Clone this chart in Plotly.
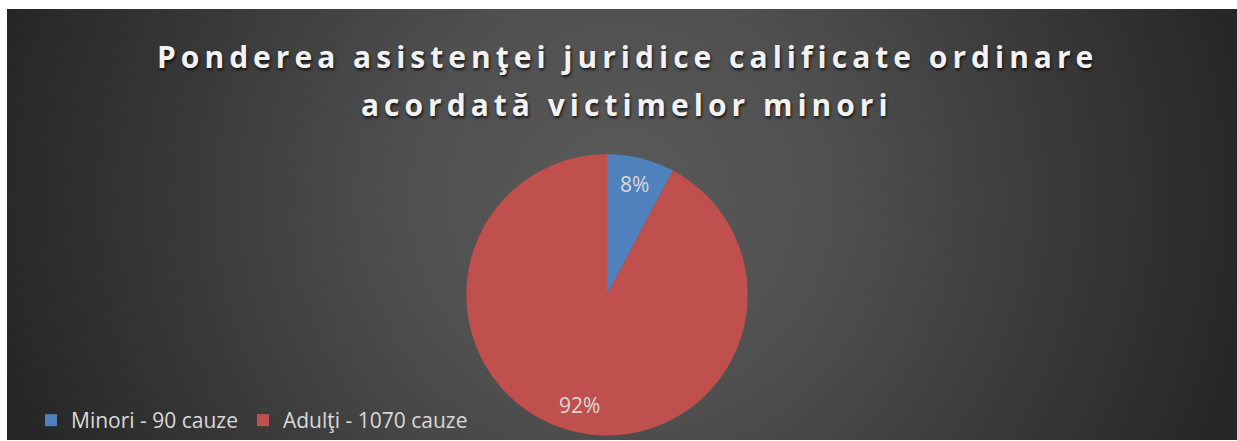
import base64
import math
import plotly.graph_objects as go

# ---- data ----
categories = ["Minori - 90 cauze", "Adulţi - 1070 cauze"]
values = [90, 1070]
colors = ["#4F81BD", "#C0504D"]
title_lines = ["Ponderea asistenţei juridice calificate ordinare", "acordată victimelor minori"]

W, H = 1237, 441
AX0, AY0 = 7, 9  # white margin at top/left of the reference picture

# ---- background radial gradient (SVG data URI) ----
bw, bh = W - AX0, H - AY0
svg = f'''<svg xmlns="http://www.w3.org/2000/svg" width="{bw}" height="{bh}" viewBox="0 0 {bw} {bh}" preserveAspectRatio="none">
<defs><radialGradient id="g" gradientUnits="userSpaceOnUse" cx="615" cy="190" r="640">
<stop offset="0" stop-color="#5a5a5a"/>
<stop offset="0.35" stop-color="#4f4f4f"/>
<stop offset="0.7" stop-color="#383838"/>
<stop offset="1" stop-color="#262626"/>
</radialGradient></defs>
<rect x="0" y="0" width="{bw}" height="{bh}" fill="url(#g)"/>
</svg>'''
src = "data:image/svg+xml;base64," + base64.b64encode(svg.encode()).decode()

# ---- pie geometry (reference pixels) ----
cx, cy, R = 607, 295.5, 141
dom_x = [(cx - R) / W, (cx + R) / W]
dom_y = [1 - (cy + R) / H, 1 - (cy - R) / H]

fig = go.Figure()
fig.add_trace(go.Pie(
    labels=categories,
    values=values,
    sort=False,
    direction="clockwise",
    rotation=0,
    marker=dict(colors=colors, line=dict(width=0)),
    textinfo="none",
    hoverinfo="label+percent",
    domain=dict(x=dom_x, y=dom_y),
))

# data labels placed at mid-angle of each slice
annotations = []
total = sum(values)
start = 0.0
for v in values:
    frac = v / total
    mid = (start + frac / 2) * 2 * math.pi
    r_lab = 0.81 * R
    lx = cx + r_lab * math.sin(mid)
    ly = cy - r_lab * math.cos(mid)
    annotations.append(dict(
        x=lx / W, y=1 - ly / H, xref="paper", yref="paper",
        text=f"{round(frac * 100)}%", showarrow=False,
        font=dict(family="Open Sans", size=21, color="#D9D9D9"),
        xanchor="center", yanchor="middle",
    ))
    start += frac

# title lines
for text, ty in zip(title_lines, [57, 105]):
    annotations.append(dict(
        x=627 / W, y=1 - ty / H, xref="paper", yref="paper",
        text=f'<b><span style="letter-spacing:5px">{text}</span></b>',
        showarrow=False, xanchor="center", yanchor="middle",
        font=dict(family="Open Sans", size=30, color="#F2F2F2",
                  shadow="1px 2px 3px rgba(0,0,0,0.75)"),
    ))

fig.update_layout(
    width=W, height=H,
    margin=dict(l=0, r=0, t=0, b=0),
    paper_bgcolor="white",
    plot_bgcolor="rgba(0,0,0,0)",
    images=[dict(source=src, xref="paper", yref="paper",
                 x=AX0 / W, y=1 - AY0 / H, sizex=bw / W, sizey=bh / H,
                 xanchor="left", yanchor="top", sizing="stretch", layer="below")],
    showlegend=True,
    legend=dict(orientation="h", x=(45 - 14) / W, y=1 - 421 / H,
                xanchor="left", yanchor="middle",
                font=dict(family="Open Sans", size=21, color="#D9D9D9"),
                bgcolor="rgba(0,0,0,0)", itemwidth=30),
    annotations=annotations,
)

fig.write_html(
    "out.html",
    config={"displayModeBar": False},
    post_script="document.documentElement.style.overflow='hidden';"
                "document.body.style.margin='0';document.body.style.overflow='hidden';",
)
